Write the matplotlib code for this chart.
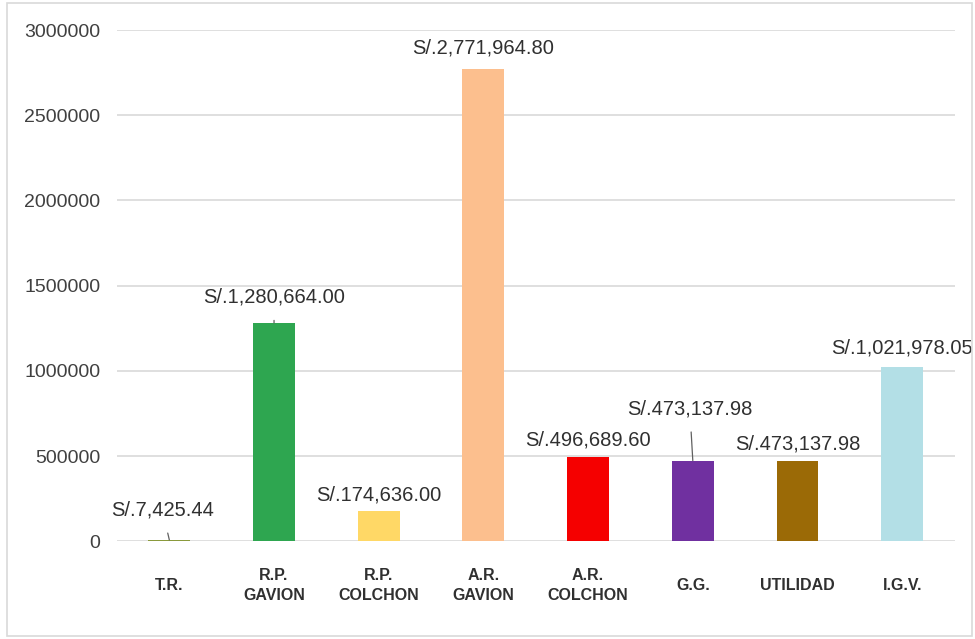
import matplotlib.pyplot as plt
from matplotlib.patches import Rectangle

plt.rcParams['font.family'] = ['Liberation Sans', 'DejaVu Sans']

# chart data
categories = ["T.R.", "R.P.\nGAVION", "R.P.\nCOLCHON", "A.R.\nGAVION",
              "A.R.\nCOLCHON", "G.G.", "UTILIDAD", "I.G.V."]
values = [7425.44, 1280664.00, 174636.00, 2771964.80,
          496689.60, 473137.98, 473137.98, 1021978.05]
labels = ["S/.7,425.44", "S/.1,280,664.00", "S/.174,636.00", "S/.2,771,964.80",
          "S/.496,689.60", "S/.473,137.98", "S/.473,137.98", "S/.1,021,978.05"]
colors = ["#8a9a3c", "#2ea650", "#ffd866", "#fcbf8e",
          "#f50000", "#7030a0", "#9b6a06", "#b3dfe6"]
yticks = [0, 500000, 1000000, 1500000, 2000000, 2500000, 3000000]

fig = plt.figure(figsize=(9.75, 6.39), dpi=100)
ax = fig.add_axes([0.12, 0.153, 0.859, 0.800])

x = range(len(categories))
ax.bar(x, values, width=0.4, color=colors, zorder=3)

ax.set_xlim(-0.5, len(categories) - 0.5)
ax.set_ylim(0, 3000000)
ax.set_yticks(yticks)
ax.set_yticklabels([str(t) for t in yticks], fontsize=14, color="#404040")
ax.set_xticks(list(x))
ax.set_xticklabels(categories, fontsize=11.5, fontweight="bold", color="#303030",
                   va="center", linespacing=1.45)
ax.tick_params(axis="x", length=0, pad=32)
ax.tick_params(axis="y", length=0, pad=12)
ax.grid(axis="y", color="#d9d9d9", linewidth=1.2, zorder=0)
for s in ax.spines.values():
    s.set_visible(False)

# data labels (offset in pixels above bar top); leader lines where the label is far off
offsets = [(-7, 30), (0, 26), (0, 16), (0, 21), (0, 17), (-3, 52), (0, 17), (0, 19)]
leaders = [True, True, False, False, False, True, False, False]
for i, (v, lab) in enumerate(zip(values, labels)):
    dx, dy = offsets[i]
    arrow = dict(arrowstyle="-", color="#606060", lw=0.9,
                 shrinkA=8, shrinkB=0) if leaders[i] else None
    ax.annotate(lab, xy=(i, v), xytext=(dx * 0.72, dy * 0.72),
                textcoords="offset points", ha="center", va="center",
                fontsize=14.5, color="#303030", arrowprops=arrow, zorder=4)

# light frame around the chart
fig.patches.append(Rectangle((7 / 975, 3 / 639), 965 / 975, 633 / 639,
                             transform=fig.transFigure, fill=False,
                             edgecolor="#d9d9d9", linewidth=1.2))

fig.savefig("out.png", dpi=100)
